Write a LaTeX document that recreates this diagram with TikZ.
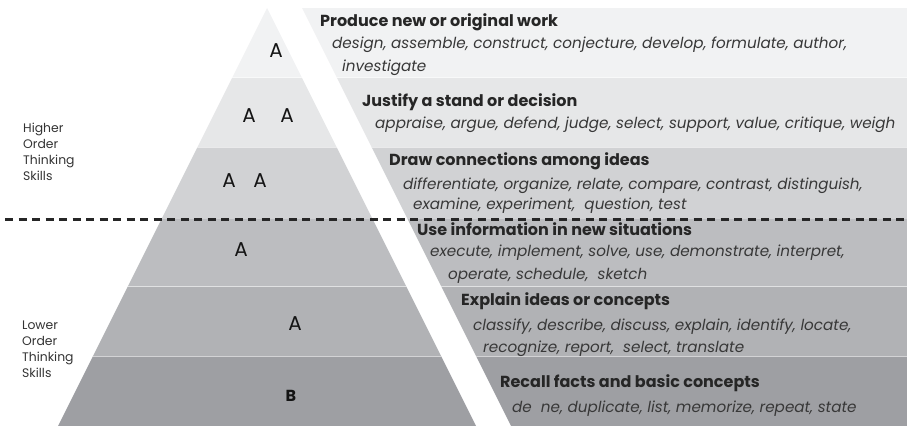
\documentclass[tikz,border=0pt]{standalone}
\usepackage{fontspec}
\setmainfont{Poppins}
\definecolor{rowA}{HTML}{F1F2F3}
\definecolor{rowB}{HTML}{E6E7E8}
\definecolor{rowC}{HTML}{D1D2D4}
\definecolor{rowD}{HTML}{BCBDC0}
\definecolor{rowE}{HTML}{B1B2B5}
\definecolor{rowF}{HTML}{9E9FA3}
\tikzset{
  lvltitle/.style={anchor=base west, inner sep=0pt, font=\fontsize{16}{18}\selectfont\bfseries, text=black!85},
  lvlverbs/.style={anchor=base west, inner sep=0pt, font=\fontsize{15.2}{17}\selectfont\itshape, text=black!78},
  glyphA/.style={anchor=base, inner sep=0pt, font=\fontsize{20}{23}\selectfont, text=black!92},
  sidelabel/.style={anchor=base west, inner sep=0pt, align=left, font=\fontsize{12.4}{15.7}\selectfont, text=black!80},
  rowsep/.style={draw=white, draw opacity=0.55, line width=0.8pt},
  splitline/.style={line width=3pt, black!85, dash pattern=on 8pt off 5.5pt},
}
\begin{document}
\begin{tikzpicture}[x=1pt,y=-1pt]
\useasboundingbox (0,0) rectangle (907,426);
% pyramid and panel shapes
\coordinate (apex) at (267,8);
\coordinate (baseL) at (58,426);
\coordinate (baseR) at (476,426);
\coordinate (panTL) at (302,8);
\coordinate (panTR) at (907,8);
\coordinate (panBR) at (907,426);
\coordinate (panBL) at (511,426);
\begin{scope}
  \clip (apex) -- (baseR) -- (baseL) -- cycle
        (panTL) -- (panTR) -- (panBR) -- (panBL) -- cycle;
  \fill[rowA] (0,8) rectangle (907,77.7);
  \fill[rowB] (0,77.7) rectangle (907,147.3);
  \fill[rowC] (0,147.3) rectangle (907,218.5);
  \fill[rowD] (0,218.5) rectangle (907,286.7);
  \fill[rowE] (0,286.7) rectangle (907,356.3);
  \fill[rowF] (0,356.3) rectangle (907,426);
  \draw[rowsep] (0,77.7) -- (907,77.7);
  \draw[rowsep] (0,147.3) -- (907,147.3);
  \draw[rowsep] (0,286.7) -- (907,286.7);
  \draw[rowsep] (0,356.3) -- (907,356.3);
\end{scope}
% dividing dashed line
\coordinate (dashL) at (5,219);
\coordinate (dashR) at (907,219);
\draw[splitline] (dashL) -- (dashR);
% side labels (anchored at the baseline of the last line)
\node[sidelabel] (hots) at (23,180) {Higher\\Order\\Thinking\\Skills};
\node[sidelabel] (lots) at (22,377) {Lower\\Order\\Thinking\\Skills};
% glyphs inside pyramid
\node[glyphA] (g1) at (276,57) {A};
\node[glyphA] (g2a) at (249,122) {A};
\node[glyphA] (g2b) at (287,122) {A};
\node[glyphA] (g3a) at (229,187) {A};
\node[glyphA] (g3b) at (260,187) {A};
\node[glyphA] (g4) at (241,256) {A};
\node[glyphA] (g5) at (295,330) {A};
\node[glyphA, font=\fontsize{16}{18}\selectfont\bfseries] (g6) at (291,401) {B};
% level texts
\node[lvltitle] (t1) at (320,26) {Produce new or original work};
\node[lvlverbs] (v1a) at (332,48) {design, assemble, construct, conjecture, develop, formulate, author,};
\node[lvlverbs] (v1b) at (342,71) {investigate};
\node[lvltitle] (t2) at (362,106) {Justify a stand or decision};
\node[lvlverbs] (v2a) at (375,128) {appraise, argue, defend, judge, select, support, value, critique, weigh};
\node[lvltitle] (t3) at (389,165) {Draw connections among ideas};
\node[lvlverbs] (v3a) at (403,189) {differentiate, organize, relate, compare, contrast, distinguish,};
\node[lvlverbs] (v3b) at (413,209) {examine, experiment,\ \ question, test};
\node[lvltitle] (t4) at (417,235) {Use information in new situations};
\node[lvlverbs] (v4a) at (430,256) {execute, implement, solve, use, demonstrate, interpret,};
\node[lvlverbs] (v4b) at (448,279) {operate, schedule,\ \ sketch};
\node[lvltitle] (t5) at (461,305) {Explain ideas or concepts};
\node[lvlverbs] (v5a) at (473,330) {classify, describe, discuss, explain, identify, locate,};
\node[lvlverbs] (v5b) at (483,352) {recognize, report,\ \ select, translate};
\node[lvltitle] (t6) at (500,387) {Recall facts and basic concepts};
\node[lvlverbs] (v6a) at (512,412) {de\ \ ne, duplicate, list, memorize, repeat, state};
\end{tikzpicture}
\end{document}
